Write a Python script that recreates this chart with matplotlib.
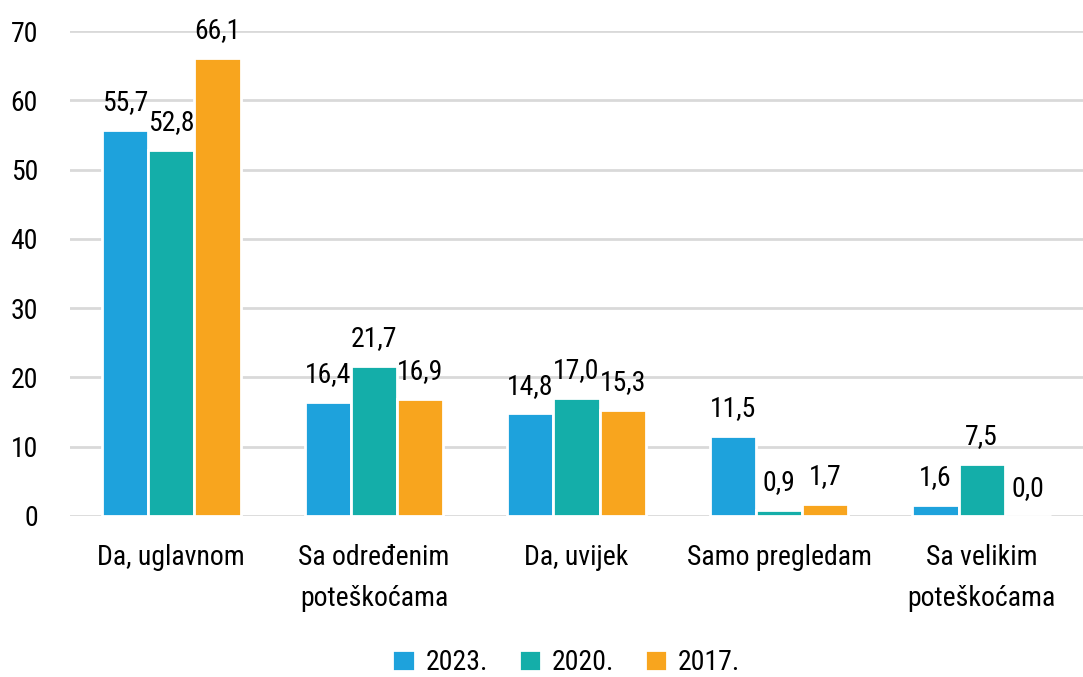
import numpy as np
import matplotlib
matplotlib.use('Agg')
import matplotlib.pyplot as plt
from matplotlib import font_manager

names = {f.name for f in font_manager.fontManager.ttflist}
fam = 'DejaVu Sans'
for cand in ['Liberation Sans Narrow', 'Roboto Condensed', 'Open Sans Condensed']:
    if cand in names:
        fam = cand
        break
plt.rcParams['font.family'] = [fam, 'DejaVu Sans']
plt.rcParams['font.stretch'] = 'condensed'

categories = ['Da, uglavnom', 'Sa određenim\npoteškoćama', 'Da, uvijek',
              'Samo pregledam', 'Sa velikim\npoteškoćama']
years = ['2023.', '2020.', '2017.']
v2023 = [55.7, 16.4, 14.8, 11.5, 1.6]
v2020 = [52.8, 21.7, 17.0, 0.9, 7.5]
v2017 = [66.1, 16.9, 15.3, 1.7, 0.0]
colors = ['#1ea2dc', '#14aea9', '#f8a51e']

fig = plt.figure(figsize=(10.83, 6.77), dpi=100)
ax = fig.add_axes([70 / 1083, 1 - 516 / 677, 1 - 70 / 1083, 485 / 677])

x = np.arange(len(categories))
w = 0.228
for i, (vals, c, lab) in enumerate(zip([v2023, v2020, v2017], colors, years)):
    pos = x + (i - 1) * w
    ax.bar(pos, vals, w, color=c, edgecolor='white', linewidth=2, label=lab, zorder=3)
    for p, v in zip(pos, vals):
        ax.annotate(f'{v:.1f}'.replace('.', ','), (p, v), xytext=(0, 10),
                    textcoords='offset points', ha='center', va='bottom', fontsize=20)

ax.set_xlim(-0.5, len(categories) - 0.5)
ax.set_ylim(0, 70)
ax.set_yticks(range(0, 71, 10))
ax.yaxis.grid(True, color='#d9d9d9', linewidth=2, zorder=0)
ax.set_axisbelow(True)
for s in ax.spines.values():
    s.set_visible(False)
ax.tick_params(axis='y', length=0, pad=23, labelsize=20)
ax.tick_params(axis='x', length=0, pad=20, labelsize=20)
ax.set_xticks(x)
ax.set_xticklabels(categories, linespacing=1.7)

ax.legend(loc='lower center', bbox_to_anchor=(0.49, -0.382), ncol=3, frameon=False,
          fontsize=20, handlelength=0.8, handleheight=0.8, handletextpad=0.4,
          columnspacing=1.1)

fig.savefig('out.png', dpi=100)
